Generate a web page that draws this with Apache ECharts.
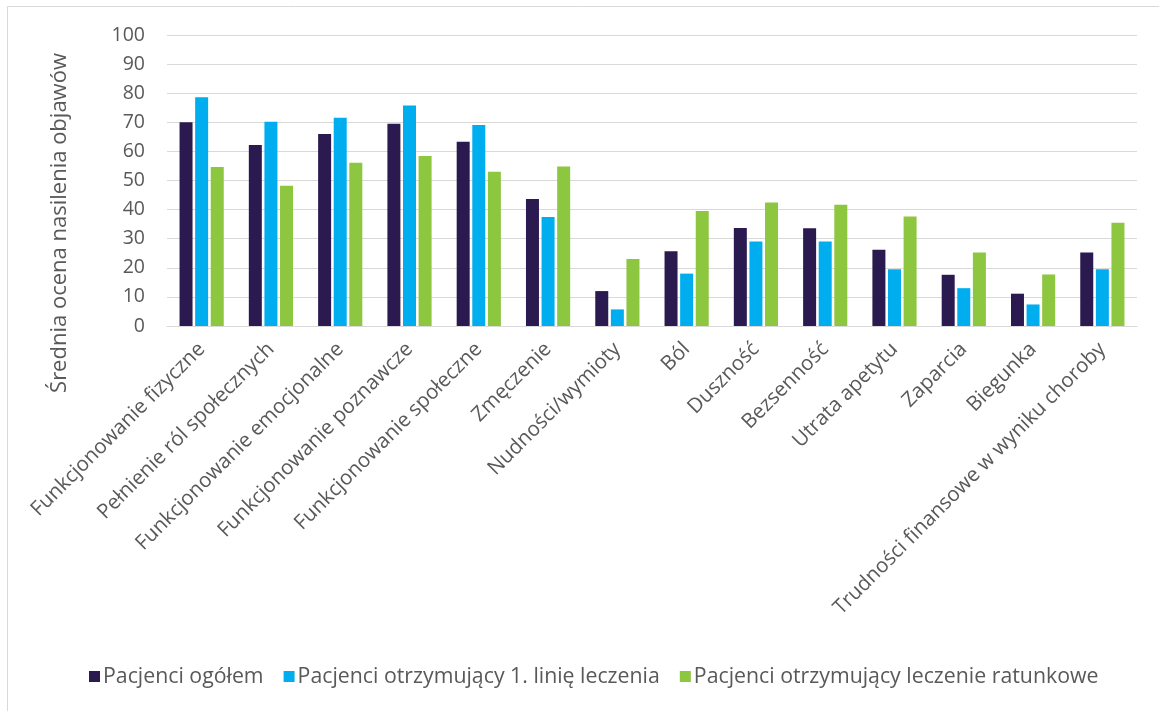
<!DOCTYPE html>
<html lang="pl">
<head>
<meta charset="utf-8">
<title>Średnia ocena nasilenia objawów</title>
<script src="https://cdn.jsdelivr.net/npm/echarts@6/dist/echarts.min.js"></script>
<style>
  html, body { margin: 0; padding: 0; background: #ffffff; }
  #chart { width: 1159px; height: 711px; }
</style>
</head>
<body>
<div id="chart"></div>
<script>
// Skale objawów i funkcjonowania
const categories = [
  'Funkcjonowanie fizyczne',
  'Pełnienie ról społecznych',
  'Funkcjonowanie emocjonalne',
  'Funkcjonowanie poznawcze',
  'Funkcjonowanie społeczne',
  'Zmęczenie',
  'Nudności/wymioty',
  'Ból',
  'Duszność',
  'Bezsenność',
  'Utrata apetytu',
  'Zaparcia',
  'Biegunka',
  'Trudności finansowe w wyniku choroby'
];

const seriesNames = [
  'Pacjenci ogółem',
  'Pacjenci otrzymujący 1. linię leczenia',
  'Pacjenci otrzymujący leczenie ratunkowe'
];

const ogolem        = [70, 62.2, 66, 69.5, 63.3, 43.6, 12, 25.7, 33.7, 33.6, 26.2, 17.6, 11.1, 25.3];
const pierwszaLinia = [78.6, 70.2, 71.6, 75.8, 69.1, 37.5, 5.7, 18, 29, 29, 19.5, 13, 7.4, 19.5];
const ratunkowe     = [54.6, 48.2, 56.1, 58.4, 53, 54.8, 23, 39.5, 42.4, 41.7, 37.6, 25.3, 17.7, 35.5];

const yTicks = { min: 0, max: 100, interval: 10 };
const yTitle = 'Średnia ocena nasilenia objawów';

const colors = ['#2b1a4f', '#00aeef', '#8dc63f'];
const textColor = '#595959';
const fontFamily = '"Open Sans", sans-serif';

const chart = echarts.init(document.getElementById('chart'), null, { renderer: 'canvas' });

const values = [ogolem, pierwszaLinia, ratunkowe];

chart.setOption({
  backgroundColor: '#ffffff',
  animation: false,
  textStyle: { fontFamily: fontFamily, color: textColor },
  graphic: [
    {
      type: 'rect',
      shape: { x: 7.5, y: 6.5, width: 1170, height: 720 },
      style: { fill: 'none', stroke: '#d9d9d9', lineWidth: 1 },
      silent: true
    },
    {
      // tytuł osi wartości, obrócony pionowo
      type: 'text',
      x: 60,
      y: 223,
      rotation: Math.PI / 2,
      style: {
        text: yTitle,
        fontFamily: fontFamily,
        fontSize: 22,
        fill: textColor,
        textAlign: 'center',
        textVerticalAlign: 'middle'
      },
      silent: true
    }
  ],
  grid: { left: 167, right: 22, top: 35, bottom: 385, containLabel: false },
  legend: {
    data: seriesNames,
    left: 84,
    top: 661,
    itemWidth: 11,
    itemHeight: 11,
    itemGap: 20,
    icon: 'rect',
    textStyle: { fontFamily: fontFamily, fontSize: 21.3, color: textColor, padding: [0, 0, 0, -2] }
  },
  xAxis: {
    type: 'category',
    data: categories,
    axisLine: { show: true, lineStyle: { color: '#d9d9d9', width: 1 } },
    axisTick: { show: false },
    axisLabel: {
      interval: 0,
      rotate: 45,
      margin: 20,
      fontFamily: fontFamily,
      fontSize: 20.5,
      color: textColor
    }
  },
  yAxis: {
    type: 'value',
    min: yTicks.min,
    max: yTicks.max,
    interval: yTicks.interval,
    axisLine: { show: false },
    axisTick: { show: false },
    axisLabel: { fontFamily: fontFamily, fontSize: 19.5, color: textColor, margin: 22 },
    splitLine: { lineStyle: { color: '#d9d9d9', width: 1 } }
  },
  series: seriesNames.map((name, i) => ({
    name: name,
    type: 'bar',
    data: values[i],
    barWidth: 13,
    barGap: '20%',
    itemStyle: { color: colors[i] }
  }))
});
</script>
</body>
</html>
